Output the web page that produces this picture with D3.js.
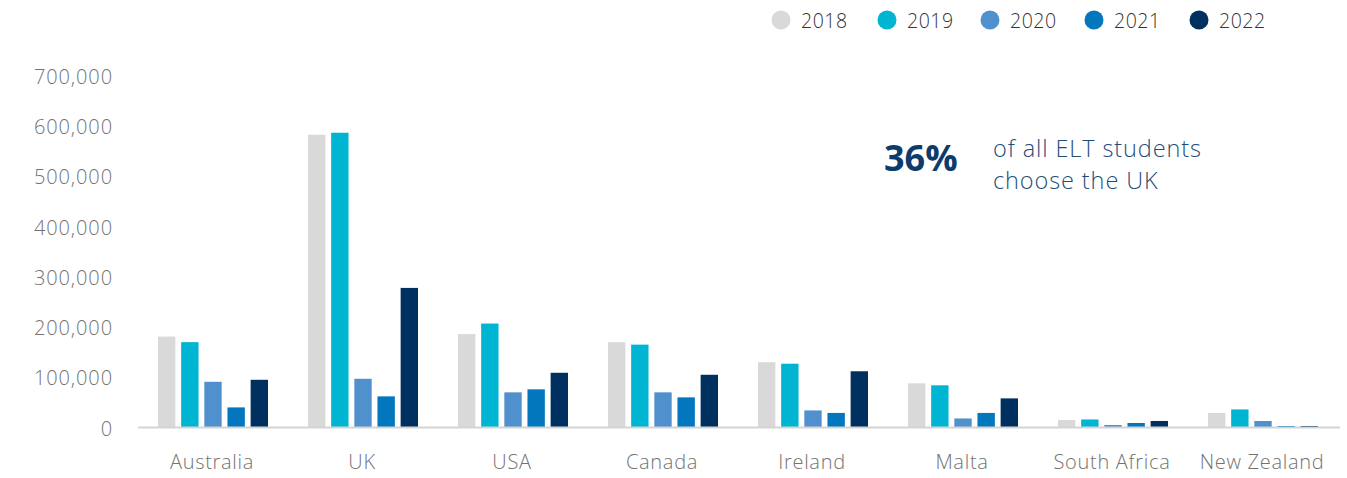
<!DOCTYPE html>
<html><head><meta charset="utf-8">
<script src="https://cdn.jsdelivr.net/npm/d3@7"></script>
<style>
html,body{margin:0;padding:0;background:#fff;}
svg{display:block;font-family:"Open Sans",sans-serif;}
</style></head>
<body><svg id="chart" width="1347" height="478"></svg>
<script>
const categories = ["Australia","UK","USA","Canada","Ireland","Malta","South Africa","New Zealand"];
const years = ["2018","2019","2020","2021","2022"];
const values2018 = [181000,583000,186000,170000,130000,88000,15000,29000];
const values2019 = [170000,587000,207000,165000,127000,84000,16000,36000];
const values2020 = [91000,97000,70000,70000,34000,18000,5000,13000];
const values2021 = [40000,62000,76000,60000,29000,29000,9000,3000];
const values2022 = [95000,278000,109000,105000,112000,58000,13000,3000];
const yTicks = [0,100000,200000,300000,400000,500000,600000,700000];
const colors = ["#d9d9d9","#00b5d1","#5090cd","#0277bd","#003060"];
const series = [values2018,values2019,values2020,values2021,values2022];

const svg = d3.select("#chart");
const x0 = d3.scaleBand().domain(categories).range([138,1338]).paddingInner(0).paddingOuter(0);
const x1 = d3.scaleBand().domain(years).range([20,130]).paddingInner(0.25);
const y = d3.scaleLinear().domain([0,700000]).range([427.5,76]);

// y axis labels
const fmt = d3.format(",");
svg.append("g").selectAll("text").data(yTicks).join("text")
  .attr("x",113).attr("y",d=>y(d)+1).attr("dy","0.35em")
  .attr("text-anchor","end").attr("fill","#737373").attr("font-size",20).attr("font-weight",300)
  .attr("letter-spacing",0.9)
  .text(d=>fmt(d));

// bars
const g = svg.append("g");
categories.forEach((c,i)=>{
  years.forEach((yr,j)=>{
    const v = series[j][i];
    g.append("rect")
      .attr("x", x0(c)+x1(yr))
      .attr("y", y(v))
      .attr("width", x1.bandwidth())
      .attr("height", y(0)-y(v))
      .attr("fill", colors[j]);
  });
});

// baseline
svg.append("line").attr("x1",138).attr("x2",1340).attr("y1",y(0)).attr("y2",y(0))
  .attr("stroke","#d4d4d4").attr("stroke-width",2);

// x labels
svg.append("g").selectAll("text").data(categories).join("text")
  .attr("x",d=>x0(d)+x0.bandwidth()/2-1).attr("y",462).attr("dy","0.35em")
  .attr("text-anchor","middle").attr("fill","#737373").attr("font-size",20).attr("font-weight",300)
  .attr("letter-spacing",0.7)
  .text(d=>d);

// legend
const legendX = [781,887,990,1094,1199];
const lg = svg.append("g");
years.forEach((yr,j)=>{
  lg.append("circle").attr("cx",legendX[j]).attr("cy",20).attr("r",9.5).attr("fill",colors[j]);
  lg.append("text").attr("x",legendX[j]+20).attr("y",21).attr("dy","0.35em")
    .attr("fill","#333").attr("font-size",19.5).attr("font-weight",300).attr("letter-spacing",0.5).text(yr);
});

// annotation
svg.append("text").attr("x",884).attr("y",171).attr("fill","#0d3b6b")
  .attr("font-size",36).attr("font-weight",700).text("36%");
const ann = svg.append("text").attr("fill","#1f4e79")
  .attr("font-size",23.5).attr("font-weight",300).attr("letter-spacing",0.9);
ann.append("tspan").attr("x",993).attr("y",156.5).text("of all ELT students");
ann.append("tspan").attr("x",993).attr("y",188.5).text("choose the UK");
</script></body></html>
